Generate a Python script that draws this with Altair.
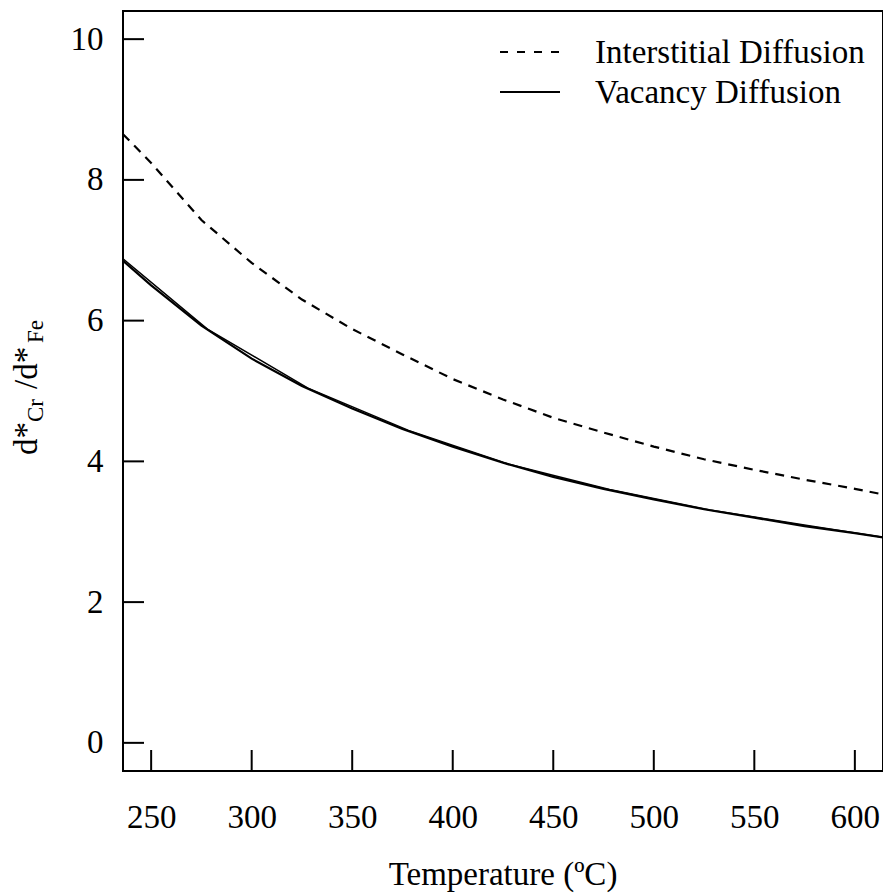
import altair as alt
import pandas as pd

# Data
temps = [236, 250, 275, 300, 325, 350, 375, 400, 425, 450, 475, 500, 525, 550, 575, 600, 614]
interstitial = [8.65, 8.24, 7.43, 6.82, 6.30, 5.88, 5.52, 5.17, 4.88, 4.62, 4.41, 4.21, 4.03, 3.88, 3.74, 3.61, 3.53]
vacancy = [6.85, 6.50, 5.93, 5.46, 5.07, 4.75, 4.46, 4.21, 3.98, 3.78, 3.61, 3.46, 3.32, 3.20, 3.08, 2.98, 2.92]
vac_coarse_t = [236, 278, 328, 378, 428, 478, 528, 578, 614]
vac_coarse = [6.88, 5.88, 5.04, 4.44, 3.96, 3.60, 3.31, 3.08, 2.92]

x_ticks = [250, 300, 350, 400, 450, 500, 550, 600]
y_ticks = [0, 2, 4, 6, 8, 10]

FONT = "Liberation Serif"
W, H = 760, 760

xs = alt.Scale(domain=[236, 614], nice=False, zero=False)
ys = alt.Scale(domain=[-0.4, 10.4], nice=False, zero=False)

df_i = pd.DataFrame({"T": temps, "v": interstitial})
df_v = pd.DataFrame({"T": temps, "v": vacancy})
df_v2 = pd.DataFrame({"T": vac_coarse_t, "v": vac_coarse})

xaxis = alt.Axis(values=x_ticks, format="d", ticks=False, domain=False, grid=False, labelFont=FONT,
                 labelFontSize=33, labelColor="black", labelPadding=30, title=None,
                 labelFlush=False)
yaxis = alt.Axis(values=y_ticks, format="d", ticks=False, domain=False, grid=False, labelFont=FONT,
                 labelFontSize=33, labelColor="black", labelPadding=20, title=None)

line_i = alt.Chart(df_i).mark_line(color="black", strokeWidth=2.2, strokeDash=[9, 7], clip=True).encode(
    x=alt.X("T:Q", scale=xs, axis=xaxis),
    y=alt.Y("v:Q", scale=ys, axis=yaxis),
)
line_v = alt.Chart(df_v).mark_line(color="black", strokeWidth=2.2, clip=True).encode(
    x=alt.X("T:Q", scale=xs), y=alt.Y("v:Q", scale=ys))
line_v2 = alt.Chart(df_v2).mark_line(color="black", strokeWidth=1.5, clip=True).encode(
    x=alt.X("T:Q", scale=xs), y=alt.Y("v:Q", scale=ys))

# inward ticks
xt = alt.Chart(pd.DataFrame({"T": x_ticks})).mark_rule(color="black", strokeWidth=2).encode(
    x=alt.X("T:Q", scale=xs), y=alt.value(H), y2=alt.value(H - 21))
yt = alt.Chart(pd.DataFrame({"v": y_ticks})).mark_rule(color="black", strokeWidth=2).encode(
    y=alt.Y("v:Q", scale=ys), x=alt.value(0), x2=alt.value(21))

# legend
leg_lines = pd.DataFrame({"name": ["Interstitial Diffusion", "Vacancy Diffusion"]})
leg_dash = alt.Chart(leg_lines.iloc[[0]]).mark_rule(color="black", strokeWidth=2.2, strokeDash=[8, 9]).encode(
    x=alt.value(377), x2=alt.value(437), y=alt.value(41))
leg_solid = alt.Chart(leg_lines.iloc[[1]]).mark_rule(color="black", strokeWidth=2.2).encode(
    x=alt.value(377), x2=alt.value(437), y=alt.value(81))
leg_t1 = alt.Chart(leg_lines.iloc[[0]]).mark_text(font=FONT, fontSize=33, align="left", baseline="alphabetic", color="black").encode(
    text="name:N", x=alt.value(472), y=alt.value(52))
leg_t2 = alt.Chart(leg_lines.iloc[[1]]).mark_text(font=FONT, fontSize=33, align="left", baseline="alphabetic", color="black").encode(
    text="name:N", x=alt.value(472), y=alt.value(92))

# axis titles
xtitle = alt.Chart(pd.DataFrame({"t": ["Temperature (ºC)"]})).mark_text(
    font=FONT, fontSize=33, align="center", baseline="alphabetic", color="black").encode(
    text="t:N", x=alt.value(W / 2), y=alt.value(874))


def ypiece(txt, size, xpos, ypos):
    return alt.Chart(pd.DataFrame({"t": [txt]})).mark_text(
        font=FONT, fontSize=size, align="left", baseline="alphabetic", angle=270, color="black").encode(
        text="t:N", x=alt.value(xpos), y=alt.value(ypos))


yt1 = ypiece("d*", 33, -86, 444)
yt2 = ypiece("Cr", 23, -80, 411)
yt3 = ypiece("/d*", 33, -86, 378)
yt4 = ypiece("Fe", 23, -80, 332)

chart = alt.layer(line_i, line_v, line_v2, xt, yt, leg_dash, leg_solid, leg_t1, leg_t2,
                  xtitle, yt1, yt2, yt3, yt4).properties(
    width=W, height=H,
    autosize=alt.AutoSizeParams(type="none"),
    padding={"left": 123, "top": 11, "right": 0, "bottom": 122},
    background="white",
).configure_view(stroke="black", strokeWidth=2)

chart.save("out.html", embed_options={"renderer": "svg", "actions": False})
